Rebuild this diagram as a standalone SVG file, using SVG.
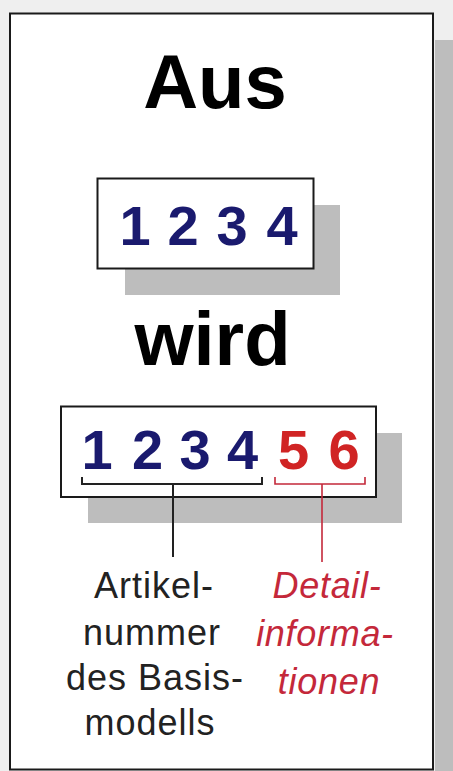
<svg xmlns="http://www.w3.org/2000/svg" width="453" height="771" viewBox="0 0 453 771">
<style>
.shadow{fill:#bdbdbd}
.box{fill:#ffffff;stroke:#1a1a1a;stroke-width:2}
.head{font-family:"Liberation Sans",Arial,sans-serif;font-weight:bold;font-size:76px;fill:#000;text-anchor:middle}
.dig{font-family:"Liberation Sans",Arial,sans-serif;font-weight:bold;font-size:56px;text-anchor:middle}
.blue{fill:#1a1a6e}
.red{fill:#d02424}
.lbl{font-family:"Liberation Sans",Arial,sans-serif;font-size:36px;letter-spacing:1px;text-anchor:middle;fill:#222}
.lblr{font-family:"Liberation Sans",Arial,sans-serif;font-size:36px;font-style:italic;letter-spacing:0.7px;text-anchor:middle;fill:#c4283a}
</style>
<rect x="0" y="0" width="453" height="771" fill="#efefef"/>
<g id="panel">
<rect class="shadow" x="435" y="40" width="20" height="740"/>
<rect class="box" x="10" y="13.5" width="423" height="756"/>
</g>
<g id="title-aus"><text class="head" x="215" y="108">Aus</text></g>
<g id="box-old">
<rect class="shadow" x="125" y="205" width="215" height="90"/>
<rect class="box" x="97.5" y="178.5" width="216" height="90"/>
<text class="dig blue" x="135" y="245">1</text>
<text class="dig blue" x="183" y="245">2</text>
<text class="dig blue" x="232" y="245">3</text>
<text class="dig blue" x="282" y="245">4</text>
</g>
<g id="title-wird"><text class="head" x="212.5" y="365">wird</text></g>
<g id="box-new">
<rect class="shadow" x="88" y="433" width="314" height="90"/>
<rect class="box" x="61" y="406.5" width="315" height="90.5"/>
<text class="dig blue" x="97" y="469">1</text>
<text class="dig blue" x="147.5" y="469">2</text>
<text class="dig blue" x="195" y="469">3</text>
<text class="dig blue" x="242.5" y="469">4</text>
<text class="dig red" x="293.5" y="469">5</text>
<text class="dig red" x="344" y="469">6</text>
</g>
<g id="connectors" fill="none">
<path d="M82 477 V484 H262 V477" stroke="#222" stroke-width="2"/>
<path d="M173 484 V557" stroke="#222" stroke-width="2"/>
<path d="M275 477 V484 H365 V477" stroke="#c4283a" stroke-width="1.6"/>
<path d="M322 484 V562" stroke="#c4283a" stroke-width="1.6"/>
</g>
<g id="label-basis">
<text class="lbl" x="154" y="598">Artikel-</text>
<text class="lbl" x="152" y="645">nummer</text>
<text class="lbl" x="155" y="690">des Basis-</text>
<text class="lbl" x="150" y="735">modells</text>
</g>
<g id="label-detail">
<text class="lblr" x="327" y="598">Detail-</text>
<text class="lblr" x="325" y="646">informa-</text>
<text class="lblr" x="329" y="694">tionen</text>
</g>
</svg>
